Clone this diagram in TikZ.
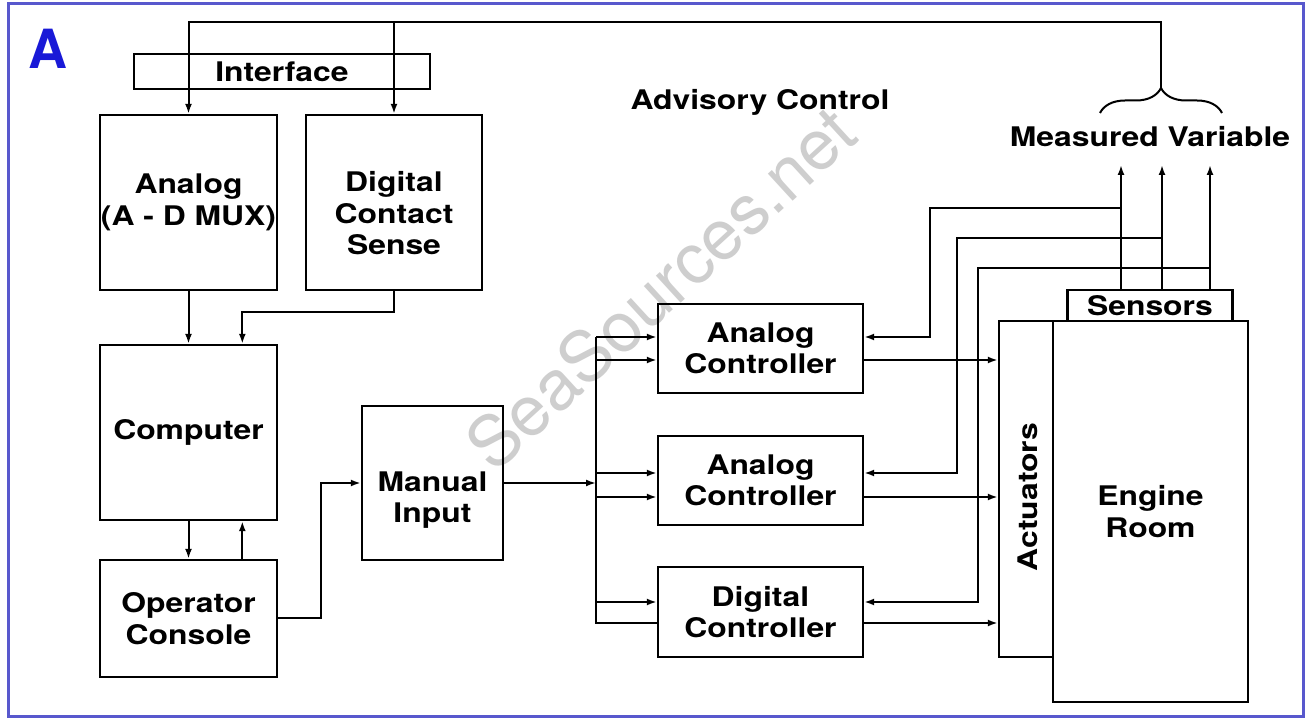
\documentclass[tikz,border=0pt]{standalone}
\usepackage{fontspec}
\setmainfont{TeX Gyre Heros}[FakeStretch=1.18]
\newfontfamily\markfont{TeX Gyre Heros}
\usetikzlibrary{arrows.meta,calc,decorations.pathreplacing}
\definecolor{frameblue}{RGB}{88,88,205}
\definecolor{letterblue}{RGB}{25,25,215}
\definecolor{markgray}{RGB}{206,206,206}

\begin{document}
\begin{tikzpicture}[x=0.5pt, y=-0.5pt, >={Latex[length=5pt,width=3.5pt]},
    box/.style={draw, line width=1.2pt, align=center, inner sep=0pt,
        font=\fontsize{13.5}{15.75}\selectfont\bfseries},
    lbl/.style={inner sep=0pt, align=center, font=\fontsize{13.5}{15.75}\selectfont\bfseries},
    wire/.style={line width=1pt}]

% Frame
\useasboundingbox (0,0) rectangle (1308,721);
\fill[white] (0,0) rectangle (1308,721);
\draw[frameblue, line width=1.5pt] (8,4) rectangle (1303,717);

% Watermark
\node[rotate=42.5, text=markgray, inner sep=0pt,
    font=\markfont\fontsize{35}{35}\selectfont] (mark) at (660,288) {SeaSources.net};

% Letter
\node[text=letterblue, inner sep=0pt,
    font=\markfont\fontsize{27}{27}\selectfont\bfseries] (letter) at (48,49) {A};

% Left column
\node[box, minimum width=148pt, minimum height=17.5pt] (iface) at (282,71.5) {Interface};
\node[box, minimum width=88.5pt, minimum height=87.5pt] (analog) at (188.5,202.5) {Analog\\(A - D MUX)};
\node[box, minimum width=88pt, minimum height=87.5pt] (dcs) at (394,202.5) {};
\node[lbl] (dcstext) at ($(dcs.center)+(0,11)$) {Digital\\Contact\\Sense};
\node[box, minimum width=88.5pt, minimum height=87.5pt] (computer) at (188.5,432.5) {Computer};
\node[box, minimum width=88.5pt, minimum height=58.5pt] (opcon) at (188.5,618.5) {Operator\\Console};
\node[box, minimum width=70.5pt, minimum height=77pt] (manual) at (432.5,483) {};
\node[lbl] (manualtext) at ($(manual.center)+(0,17)$) {Manual\\Input};

% Controllers
\node[box, minimum width=102.5pt, minimum height=44.5pt] (ctrl1) at (760.5,348.5) {Analog\\Controller};
\node[box, minimum width=102.5pt, minimum height=44.5pt] (ctrl2) at (760.5,480.5) {Analog\\Controller};
\node[box, minimum width=102.5pt, minimum height=45pt] (ctrl3) at (760.5,612) {Digital\\Controller};

% Plant
\node[box, minimum width=82.5pt, minimum height=15.5pt] (sensors) at (1150,305.5) {Sensors};
\node[box, minimum width=27pt, minimum height=168pt] (act) at (1026,489) {};
\node[lbl, rotate=90] (acttext) at (1028,497) {Actuators};
\node[box, minimum width=97.5pt, minimum height=190.5pt] (engine) at (1150.5,511.5) {Engine\\Room};

% Titles
\node[lbl] (advisory) at (760,102) {Advisory Control};
\node[lbl] (measured) at (1150,137) {Measured Variable};

% Brace and feedback to the interface
\coordinate (mvtip) at (1161,88);
\coordinate (topline) at (1161,22);
\draw[wire, decorate, decoration={brace, amplitude=12.5pt}] (1100,113) -- (1222,113);
\draw[wire,->] (mvtip) -- (topline) -| (analog.north);
\draw[wire,->] (dcs.north |- topline) -- (dcs.north);

% Left column links
\coordinate (cn) at ($(computer.north)!0.6!(computer.north east)$);
\coordinate (cs) at ($(computer.south)!0.6!(computer.south east)$);
\coordinate (on) at ($(opcon.north)!0.6!(opcon.north east)$);
\draw[wire,->] (analog.south) -- (computer.north);
\draw[wire,->] (dcs.south) -- ++(0,21) -| (cn);
\draw[wire,->] (computer.south) -- (opcon.north);
\draw[wire,->] (on) -- (cs);
\draw[wire,->] (opcon.east) -- ++(43,0) |- (manual.west);

% Bus to the controllers
\coordinate (bus) at (596,0);
\foreach \i/\u/\l in {1/337/360, 2/473/497, 3/602/623} {
    \coordinate (u\i) at (760,\u);
    \coordinate (l\i) at (760,\l);
}
\draw[wire,->] (manual.east) -- (manual.east -| bus);
\foreach \i in {1,2,3}
    \draw[wire,->] (u\i -| bus) -- (u\i -| ctrl\i.west);
\foreach \i in {1,2}
    \draw[wire,->] (l\i -| bus) -- (l\i -| ctrl\i.west);
\draw[wire] (u1 -| bus) -- (l3 -| bus) -- (l3 -| ctrl3.west);

% Controller outputs
\foreach \i in {1,2,3}
    \draw[wire,->] (l\i -| ctrl\i.east) -- (l\i -| act.west);

% Sensor lines
\foreach \i/\x/\f/\y in {1/1121/930/208, 2/1162/957/238, 3/1210/978/268} {
    \coordinate (s\i) at (sensors.north -| \x,0);
    \coordinate (m\i) at (\x,165);
    \coordinate (f\i) at (\f,\y);
    \draw[wire,->] (s\i) -- (m\i);
    \draw[wire,->] (s\i |- f\i) -| (u\i -| f\i) -- (u\i -| ctrl\i.east);
}

\end{tikzpicture}
\end{document}
